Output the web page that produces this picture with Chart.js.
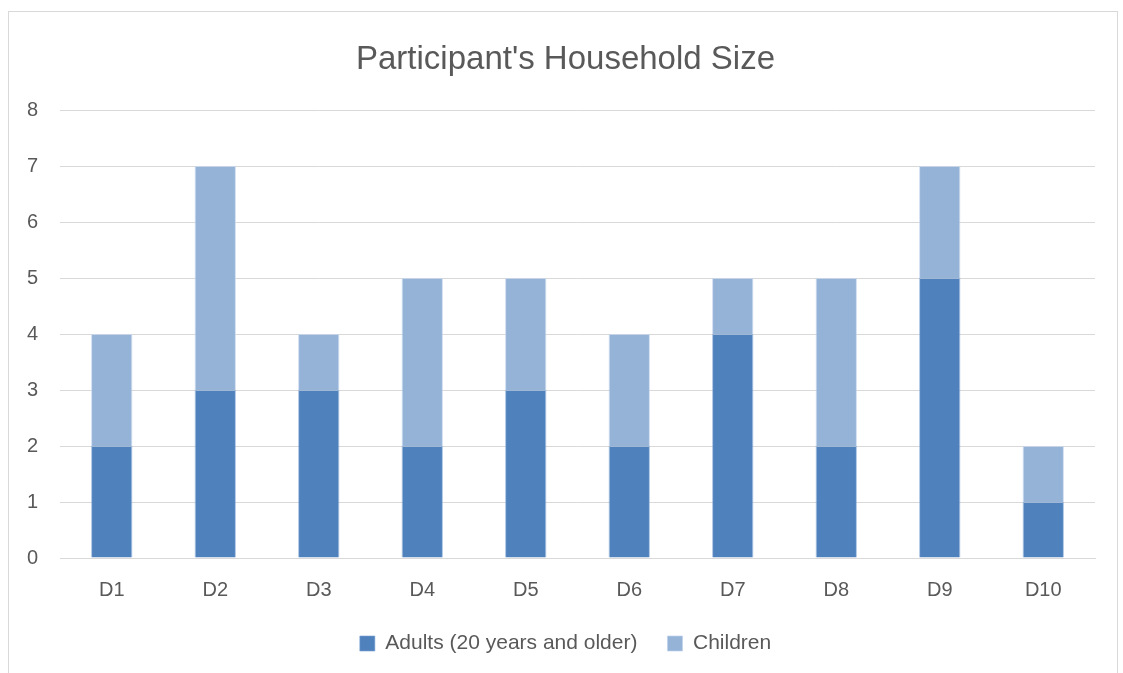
<!DOCTYPE html>
<html>
<head>
<meta charset="utf-8">
<script src="https://cdn.jsdelivr.net/npm/chart.js@4.4.0/dist/chart.umd.min.js"></script>
<style>
  html, body { margin: 0; padding: 0; background: #ffffff; }
  #wrap { position: relative; width: 1123px; height: 673px; }
</style>
</head>
<body>
<div id="wrap"><canvas id="c" width="1123" height="673"></canvas></div>
<script>
const categories = ["D1", "D2", "D3", "D4", "D5", "D6", "D7", "D8", "D9", "D10"];
const adults = [2, 3, 3, 2, 3, 2, 4, 2, 5, 1];
const children = [2, 4, 1, 3, 2, 2, 1, 3, 2, 1];
const seriesNames = ["Adults (20 years and older)", "Children"];
const yTicks = [0, 1, 2, 3, 4, 5, 6, 7, 8];

const FONT = "'Liberation Sans', Arial, sans-serif";
const TEXT = "#595959";
const GRID = "#d9d9d9";

const frame = {
  id: "frame",
  beforeDraw(chart) {
    const ctx = chart.ctx;
    ctx.save();
    ctx.fillStyle = "#ffffff";
    ctx.fillRect(0, 0, chart.width, chart.height);
    ctx.strokeStyle = GRID;
    ctx.lineWidth = 1;
    ctx.strokeRect(8.5, 11.5, 1109, 700);
    ctx.restore();
  },
  afterLayout(chart) {
    if (chart.legend) {
      chart.legend.left += 18;
      chart.legend.right += 18;
    }
    if (chart.titleBlock) {
      chart.titleBlock.left += 18;
      chart.titleBlock.right += 18;
    }
  }
};

new Chart(document.getElementById("c"), {
  type: "bar",
  data: {
    labels: categories,
    datasets: [
      { label: seriesNames[0], data: adults, backgroundColor: "#4f81bd", borderColor: "rgba(120,160,210,0.6)", borderWidth: 1 },
      { label: seriesNames[1], data: children, backgroundColor: "#95b3d7", borderColor: "rgba(190,210,235,0.7)", borderWidth: 1 }
    ]
  },
  options: {
    responsive: false,
    animation: false,
    devicePixelRatio: 1,
    layout: { padding: { left: 0, right: 28, top: 28, bottom: 9 } },
    datasets: { bar: { barPercentage: 0.4, categoryPercentage: 1.0 } },
    plugins: {
      title: {
        display: true,
        text: "Participant's Household Size",
        color: TEXT,
        font: { family: FONT, size: 33, weight: "normal" },
        padding: { top: 12, bottom: 30.4 }
      },
      legend: {
        display: true,
        position: "bottom",
        labels: {
          color: TEXT,
          font: { family: FONT, size: 21 },
          boxWidth: 15,
          boxHeight: 15,
          padding: 30
        }
      },
      tooltip: { enabled: false }
    },
    scales: {
      x: {
        stacked: true,
        afterFit(scale) { scale.height = 45; },
        grid: { display: false, drawTicks: false },
        border: { display: true, color: GRID, width: 1 },
        ticks: { color: TEXT, font: { family: FONT, size: 20 }, padding: 20 }
      },
      y: {
        stacked: true,
        min: 0,
        max: 8,
        afterBuildTicks(scale) { scale.ticks = yTicks.map(v => ({ value: v })); },
        afterFit(scale) { scale.width = 60; },
        grid: { color: GRID, lineWidth: 1, drawTicks: false },
        border: { display: false },
        ticks: { color: TEXT, font: { family: FONT, size: 20 }, padding: 22, stepSize: 1 }
      }
    }
  },
  plugins: [frame]
});
</script>
</body>
</html>
